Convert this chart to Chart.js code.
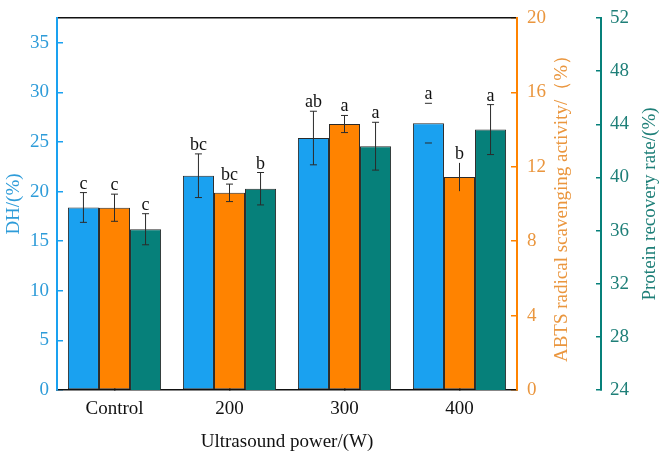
<!DOCTYPE html>
<html>
<head>
<meta charset="utf-8">
<script src="https://cdn.jsdelivr.net/npm/chart.js@4/dist/chart.umd.min.js"></script>
<style>
  html, body { margin: 0; padding: 0; background: #fff; }
  #wrap { width: 669px; height: 458px; }
</style>
</head>
<body>
<div id="wrap"><canvas id="chart" width="669" height="458"></canvas></div>
<script>
'use strict'

//Data ---------------------------------------------------------
const categories = ['Control', '200', '300', '400'];

const dhValues = [18.4, 21.6, 25.4, 26.9];
const dhErrors = [1.5, 2.2, 2.7, 2.0];
const dhLetters = ['c', 'bc', 'ab', 'a'];
const dhErrStyle = ['full', 'full', 'full', 'caps'];

const abtsValues = [9.8, 10.6, 14.3, 11.45];
const abtsErrors = [0.73, 0.47, 0.46, 0.76];
const abtsLetters = ['c', 'bc', 'a', 'b'];
const abtsErrStyle = ['full', 'full', 'full', 'line'];

const proteinValues = [36.1, 39.15, 42.35, 43.6];
const proteinErrors = [1.17, 1.22, 1.8, 1.88];
const proteinLetters = ['c', 'b', 'a', 'a'];
const proteinErrStyle = ['full', 'full', 'full', 'full'];

//Colors and fonts ---------------------------------------------------------
const blue = '#1AA1F0';
const orange = '#FF8300';
const teal = '#06807A';
const blueText = '#2E9CD9';
const orangeText = '#EA963E';
const tealText = '#1E7F78';
const serif = "'Liberation Serif', 'Times New Roman', serif";

//Plugins ---------------------------------------------------------
const errorBarPlugin = {
  id: 'errorBars',
  afterDatasetsDraw(chart) {
    const ctx = chart.ctx;
    ctx.save();
    chart.data.datasets.forEach(function (ds, di) {
      const meta = chart.getDatasetMeta(di);
      const scale = chart.scales[ds.yAxisID];
      meta.data.forEach(function (bar, i) {
        const x = bar.x;
        const yTop = scale.getPixelForValue(ds.data[i] + ds.errors[i]);
        const yBot = scale.getPixelForValue(ds.data[i] - ds.errors[i]);
        const style = ds.errStyle[i];
        ctx.strokeStyle = '#2b2b2b';
        ctx.lineWidth = 1;
        ctx.beginPath();
        if (style !== 'caps') {
          ctx.moveTo(x, yTop);
          ctx.lineTo(x, yBot);
        }
        if (style !== 'line') {
          ctx.moveTo(x - 3.5, yTop);
          ctx.lineTo(x + 3.5, yTop);
          ctx.moveTo(x - 3.5, yBot);
          ctx.lineTo(x + 3.5, yBot);
        }
        ctx.stroke();
        ctx.fillStyle = '#111';
        ctx.font = '18px ' + serif;
        ctx.textAlign = 'center';
        ctx.textBaseline = 'alphabetic';
        ctx.fillText(ds.letters[i], x, yTop - 4);
      });
    });
    ctx.restore();
  }
};

const sideTitlePlugin = {
  id: 'sideTitles',
  afterDraw(chart) {
    const ctx = chart.ctx;
    const midY = (chart.chartArea.top + chart.chartArea.bottom) / 2;
    const titles = [
      { text: 'ABTS radical scavenging activity/（%）', x: 562, color: orangeText },
      { text: 'Protein recovery rate/(%)', x: 650, color: tealText }
    ];
    ctx.save();
    ctx.font = '19px ' + serif;
    ctx.textAlign = 'center';
    ctx.textBaseline = 'middle';
    titles.forEach(function (t) {
      ctx.save();
      ctx.translate(t.x, midY);
      ctx.rotate(-Math.PI / 2);
      ctx.fillStyle = t.color;
      ctx.fillText(t.text, 0, 0);
      ctx.restore();
    });
    ctx.restore();
  }
};

//Axis sizing ---------------------------------------------------------
function fixWidth(w) {
  return function (scale) {
    scale.width = w;
    scale.paddingTop = 0;
    scale.paddingBottom = 0;
  };
}

function fixHeight(h) {
  return function (scale) {
    scale.height = h;
    scale.paddingLeft = 0;
    scale.paddingRight = 0;
  };
}

//Chart ---------------------------------------------------------
const ctx = document.getElementById('chart').getContext('2d');

const myChart = new Chart(ctx, {
  type: 'bar',
  data: {
    labels: categories,
    datasets: [{
      label: 'DH',
      data: dhValues,
      errors: dhErrors,
      letters: dhLetters,
      errStyle: dhErrStyle,
      yAxisID: 'y',
      backgroundColor: blue
    }, {
      label: 'ABTS',
      data: abtsValues,
      errors: abtsErrors,
      letters: abtsLetters,
      errStyle: abtsErrStyle,
      yAxisID: 'y1',
      backgroundColor: orange
    }, {
      label: 'Protein recovery',
      data: proteinValues,
      errors: proteinErrors,
      letters: proteinLetters,
      errStyle: proteinErrStyle,
      yAxisID: 'y2',
      backgroundColor: teal
    }]
  },
  options: {
    responsive: false,
    animation: false,
    layout: { padding: 0 },
    datasets: {
      bar: {
        categoryPercentage: 0.81,
        barPercentage: 1,
        borderWidth: 1,
        borderColor: '#2a2a2a',
        borderSkipped: false
      }
    },
    plugins: {
      legend: { display: false },
      tooltip: { enabled: false }
    },
    scales: {
      x: {
        position: 'bottom',
        afterFit: fixHeight(68),
        grid: { drawOnChartArea: false, offset: false, tickLength: -5, tickColor: '#111', lineWidth: 1.5 },
        border: { color: '#111', width: 1.5 },
        ticks: { color: '#111', padding: 13, font: { family: serif, size: 19 } },
        title: { display: true, text: 'Ultrasound power/(W)', color: '#111', padding: { bottom: 5, top: 0 }, font: { family: serif, size: 19 } }
      },
      xTop: {
        type: 'category',
        position: 'top',
        labels: categories,
        afterFit: fixHeight(18),
        grid: { display: false },
        border: { color: '#111', width: 1.5 },
        ticks: { display: false }
      },
      y: {
        position: 'left',
        min: 0,
        max: 37.5,
        afterFit: fixWidth(57),
        grid: { drawOnChartArea: false, tickLength: -6, tickColor: blue, lineWidth: 1.5 },
        border: { color: blue, width: 2 },
        ticks: { stepSize: 5, includeBounds: false, color: blueText, padding: 14, font: { family: serif, size: 19 } },
        title: { display: true, text: 'DH/(%)', color: blueText, padding: { top: 3, bottom: 0 }, font: { family: serif, size: 19 } }
      },
      y1: {
        position: 'right',
        weight: 0,
        min: 0,
        max: 20,
        afterFit: fixWidth(84),
        grid: { drawOnChartArea: false, tickLength: -6, tickColor: orange, lineWidth: 1.5 },
        border: { color: orange, width: 2 },
        ticks: { stepSize: 4, includeBounds: false, color: orangeText, padding: 16, font: { family: serif, size: 19 } }
      },
      y2: {
        position: 'right',
        weight: 1,
        min: 24,
        max: 52,
        beginAtZero: false,
        afterFit: fixWidth(68),
        grid: { drawOnChartArea: false, tickLength: -5, tickColor: teal, lineWidth: 1.5 },
        border: { color: teal, width: 2 },
        ticks: { stepSize: 4, includeBounds: false, color: tealText, padding: 14, font: { family: serif, size: 19 } }
      }
    }
  },
  plugins: [errorBarPlugin, sideTitlePlugin]
});
</script>
</body>
</html>
